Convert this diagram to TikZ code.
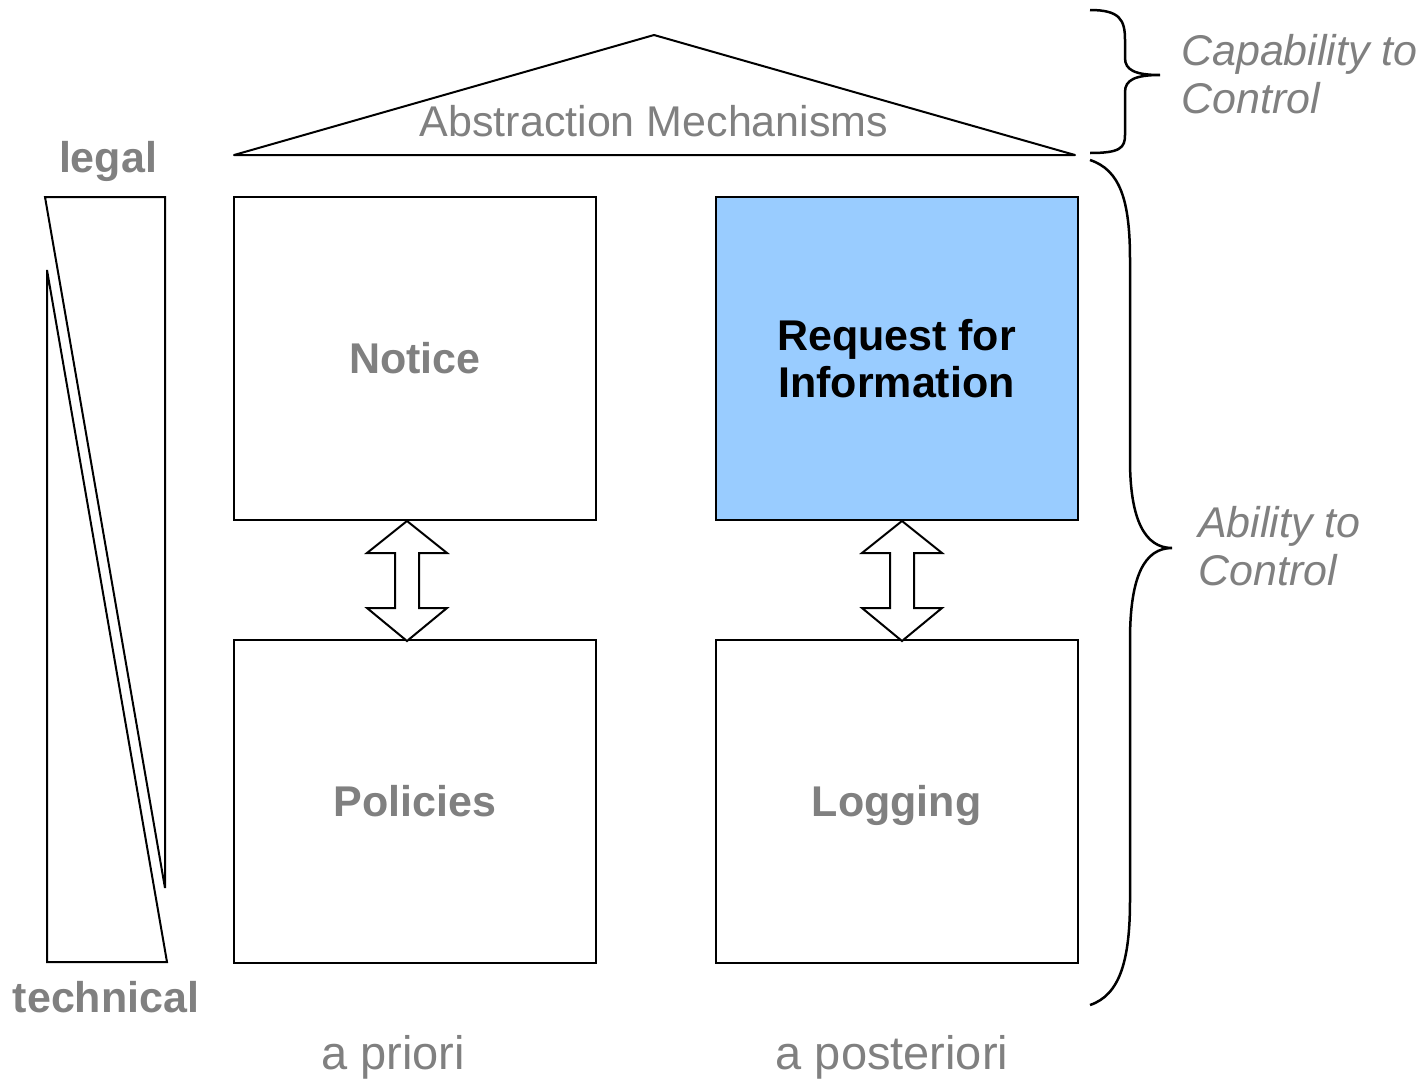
\documentclass[tikz,border=0pt]{standalone}
\usepackage{fontspec}
\setmainfont{Liberation Sans}
\definecolor{labelgray}{RGB}{128,128,128}
\definecolor{rfiblue}{RGB}{153,204,255}
\begin{document}
\begin{tikzpicture}
		[	x=1pt,y=-1pt,
		box/.style={rectangle,draw=black,fill=white,line width=2pt,minimum width=362pt,minimum height=323pt,
			font=\fontsize{43}{47}\selectfont\bfseries,text=labelgray,align=center},
		plain/.style={inner sep=0pt,font=\fontsize{43}{48}\selectfont,text=labelgray},
		side/.style={inner sep=0pt,font=\fontsize{43}{48}\selectfont\itshape,text=labelgray,align=left},
		dblarrow/.style={draw=black,fill=white,line width=2pt,line join=miter},
		brace/.style={draw=black,line width=2.5pt}
		]
		\useasboundingbox (0,0) rectangle (1424,1082);

		% roof
		\draw[line width=2pt,line join=round] (234,155) -- (654,35) -- (1075,155) -- cycle;
		\node[plain] (abstr) at (654,121){Abstraction Mechanisms};

		% pillars
		\node[box] (notice) at (415,358.5){Notice};
		\node[box,fill=rfiblue,text=black] (rfi) at (896.5,358.5){Request for\\Information};
		\node[box] (policies) at (415,801){Policies};
		\node[box,text depth=0pt] (logging) at (896.5,801){Logging};

		% double arrows
		\draw[dblarrow] ([xshift=-8pt]notice.south) -- ++(40,32) -- ++(-28,0) -- ++(0,55) -- ++(28,0)
			-- ++(-40,33) -- ++(-40,-33) -- ++(28,0) -- ++(0,-55) -- ++(-28,0) -- cycle;
		\draw[dblarrow] ([xshift=5.5pt]rfi.south) -- ++(40,32) -- ++(-28,0) -- ++(0,55) -- ++(28,0)
			-- ++(-40,33) -- ++(-40,-33) -- ++(28,0) -- ++(0,-55) -- ++(-28,0) -- cycle;

		% legal / technical wedges
		\draw[line width=2pt,line join=miter] (45,197) -- (165,197) -- (165,888) -- cycle;
		\draw[line width=2pt,line join=miter] (47,270) -- (47,962) -- (167,962) -- cycle;
		\node[plain,font=\fontsize{43}{48}\selectfont\bfseries,anchor=base] (legal) at (108,172){legal};
		\node[plain,font=\fontsize{43}{48}\selectfont\bfseries,anchor=base] (technical) at (106,1012){technical};

		% braces
		\draw[brace] (1090,10) .. controls (1120,10) and (1125,20) .. (1125,40) -- (1125,58)
			.. controls (1125,70) and (1135,75) .. (1160,75)
			.. controls (1135,75) and (1125,80) .. (1125,92) -- (1125,135)
			.. controls (1125,148) and (1120,153) .. (1090,153);
		\draw[brace] (1090,160) .. controls (1120,170) and (1130,200) .. (1130,260) -- (1130,460)
			.. controls (1130,520) and (1145,548) .. (1172,548)
			.. controls (1145,548) and (1130,575) .. (1130,640) -- (1130,900)
			.. controls (1130,960) and (1120,995) .. (1090,1005);
		\node[side,anchor=west] (capab) at (1181,74){Capability to\\Control};
		\node[side,anchor=west] (abil) at (1198,546){Ability to\\Control};

		% bottom labels
		\node[plain,font=\fontsize{47}{48}\selectfont,anchor=base] (prior) at (393,1069){a priori};
		\node[plain,font=\fontsize{47}{48}\selectfont,anchor=base] (poster) at (892,1069){a posteriori};
	\end{tikzpicture}
\end{document}
